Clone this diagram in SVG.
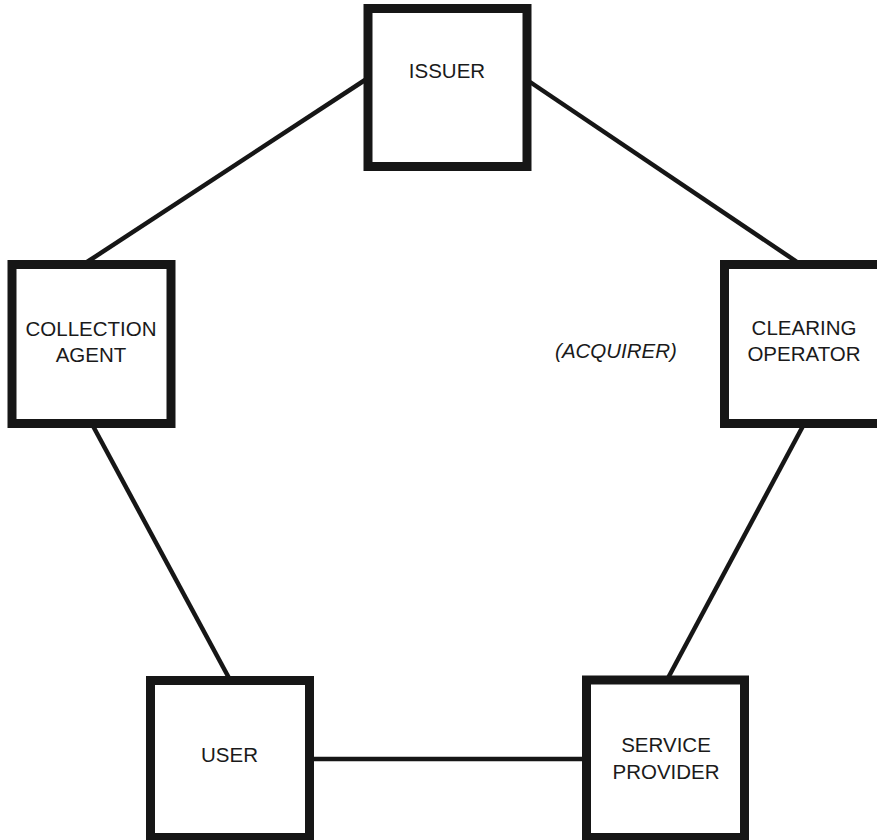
<svg xmlns="http://www.w3.org/2000/svg" width="877" height="840" viewBox="0 0 877 840">
<style>
.box{fill:#fff;stroke:#161616;stroke-width:9}
.lbl{font-family:"Liberation Sans",Arial,sans-serif;font-size:20.5px;fill:#1a1a1a;text-anchor:middle}
.con{stroke:#161616;stroke-width:4.5;fill:none}
</style>
<rect width="877" height="840" fill="#fff"/>
<g id="connectors">
<line class="con" x1="365" y1="80" x2="84" y2="264"/>
<line class="con" x1="530" y1="82" x2="800" y2="264"/>
<line class="con" x1="93" y1="426" x2="229" y2="678"/>
<line class="con" x1="803" y1="426" x2="668" y2="678"/>
<line class="con" x1="312" y1="759" x2="584" y2="759"/>
</g>
<g id="issuer">
<rect class="box" x="368" y="8.5" width="159" height="158"/>
<text class="lbl" x="447" y="78">ISSUER</text>
</g>
<g id="collection-agent">
<rect class="box" x="12" y="264.5" width="159" height="159"/>
<text class="lbl" x="91" y="336">COLLECTION</text>
<text class="lbl" x="91" y="362">AGENT</text>
</g>
<g id="clearing-operator">
<rect class="box" x="724.5" y="264.5" width="159" height="159"/>
<text class="lbl" x="804" y="334.5">CLEARING</text>
<text class="lbl" x="804" y="361">OPERATOR</text>
</g>
<g id="user">
<rect class="box" x="150.5" y="680.5" width="159" height="157"/>
<text class="lbl" x="229.5" y="762">USER</text>
</g>
<g id="service-provider">
<rect class="box" x="586.5" y="680" width="158" height="157.5"/>
<text class="lbl" x="666" y="752">SERVICE</text>
<text class="lbl" x="666" y="778.5">PROVIDER</text>
</g>
<g id="acquirer">
<text class="lbl" x="616" y="357.5" font-style="italic">(ACQUIRER)</text>
</g>
</svg>
